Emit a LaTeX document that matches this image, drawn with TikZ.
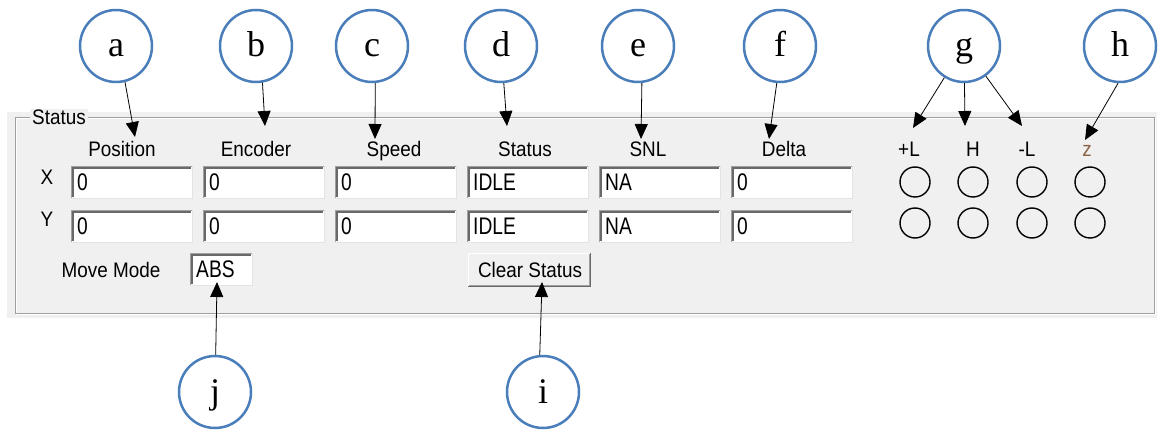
\documentclass[tikz,border=0pt]{standalone}
\usepackage{fontspec}
\setmainfont{Liberation Serif}
\newfontfamily\uifont[FakeStretch=0.9]{Liberation Sans}
\newfontfamily\fieldfont[FakeStretch=0.8]{Liberation Sans}
\usetikzlibrary{arrows.meta,calc}

\definecolor{panelgray}{HTML}{F0F0F0}
\definecolor{etchgray}{HTML}{A0A0A0}
\definecolor{darkedge}{HTML}{696969}
\definecolor{lightedge}{HTML}{E3E3E3}
\definecolor{calloutblue}{HTML}{4A7EBB}
\definecolor{zcolor}{RGB}{140,100,70}

\tikzset{
  callout/.style={circle, draw=calloutblue, line width=2.5pt, fill=white,
    minimum size=72pt, inner sep=0pt, text height=22pt, text depth=0pt,
    font=\fontsize{36}{36}\selectfont},
  arr/.style={-{Triangle[length=15pt,width=13pt]}, line width=0.8pt, black},
  uilabel/.style={font=\uifont\fontsize{21}{21}\selectfont, inner sep=0pt},
  fieldtext/.style={font=\fieldfont\fontsize{24}{24}\selectfont, inner sep=0pt},
  fieldbox/.style={fill=white, draw=none, inner sep=0pt, minimum height=32pt,
    anchor=north west},
  lamp/.style={circle, draw=black, line width=1.4pt, minimum size=30pt, inner sep=0pt},
}

% sunken edit field: name, left, top, width, text
\newcommand\editfield[5]{%
  \node[fieldbox, minimum width=#4pt] (#1) at (#2,#3) {};
  \draw[lightedge, line width=1pt] ([xshift=0.5pt]#1.south west) -| ([yshift=-0.5pt]#1.north east);
  \draw[etchgray, line width=1pt] ([xshift=0.5pt]#1.south west) |- ([yshift=-0.5pt]#1.north east);
  \draw[darkedge, line width=1.6pt] ([xshift=1.8pt,yshift=1pt]#1.south west) |- ([xshift=-1pt,yshift=-1.8pt]#1.north east);
  \node[fieldtext, anchor=west] (#1-txt) at ([xshift=6pt]#1.west) {#5};
}

\begin{document}
\begin{tikzpicture}[x=1pt, y=-1pt]
\useasboundingbox (0,0) rectangle (1158,430);
\fill[white] (0,0) rectangle (1158,430);

% dialog panel and etched group frame
\fill[panelgray] (7,112) rectangle (1157,318);
\draw[white, line width=1pt] (16,119) rectangle (1155,314);
\draw[etchgray, line width=1pt] (15,118) rectangle (1154,313);
\node[uilabel, fill=panelgray, inner xsep=2pt, inner ysep=1pt, anchor=base] (grouplbl) at (59,125) {Status};

% column headers
\node[uilabel, anchor=base] (hpos) at (122,157) {Position};
\node[uilabel, anchor=base] (henc) at (256,157) {Encoder};
\node[uilabel, anchor=base] (hspd) at (394,157) {Speed};
\node[uilabel, anchor=base] (hsta) at (525,157) {Status};
\node[uilabel, anchor=base] (hsnl) at (648,157) {SNL};
\node[uilabel, anchor=base] (hdel) at (784,157) {Delta};

\node[uilabel, anchor=base] (hpl) at (909,157) {+L};
\node[uilabel, anchor=base] (hh)  at (973,157) {H};
\node[uilabel, anchor=base] (hml) at (1027,157) {-L};
\node[uilabel, anchor=base, text=zcolor] (hz) at (1087,157) {z};

% row labels
\node[uilabel, anchor=base] (rowx) at (47,185) {X};
\node[uilabel, anchor=base] (rowy) at (47,227) {Y};

% edit fields, X row
\editfield{xpos}{71}{166}{121}{0}
\editfield{xenc}{203}{166}{121}{0}
\editfield{xspd}{335}{166}{121}{0}
\editfield{xsta}{467}{166}{121}{IDLE}
\editfield{xsnl}{599}{166}{121}{NA}
\editfield{xdel}{731}{166}{121}{0}
% edit fields, Y row
\editfield{ypos}{71}{210}{121}{0}
\editfield{yenc}{203}{210}{121}{0}
\editfield{yspd}{335}{210}{121}{0}
\editfield{ysta}{467}{210}{121}{IDLE}
\editfield{ysnl}{599}{210}{121}{NA}
\editfield{ydel}{731}{210}{121}{0}

% limit indicator lamps
\foreach \cx/\nm in {915/pl,973/h,1032/ml,1090/z}{
  \node[lamp] (lx\nm) at (\cx,182) {};
  \node[lamp] (ly\nm) at (\cx,223) {};
}

% move mode
\node[uilabel, anchor=base] (mmlbl) at (111,277) {Move Mode};
\editfield{mode}{190}{253}{62}{ABS}

% clear status button (raised)
\node[fill=panelgray, draw=none, inner sep=0pt, minimum width=123pt, minimum height=34pt,
  anchor=north west] (clr) at (468,253) {};
\draw[white, line width=1pt] ([xshift=0.5pt]clr.south west) |- ([yshift=-0.5pt]clr.north east);
\draw[darkedge, line width=1pt] ([yshift=0.5pt]clr.south west) -| ([xshift=-0.5pt]clr.north east);
\draw[etchgray, line width=1pt] ([xshift=1pt,yshift=1.5pt]clr.south west) -| ([xshift=-1.5pt,yshift=-1pt]clr.north east);
\node[uilabel, anchor=base] (clrtxt) at (530,277) {Clear Status};

% callout circles
\node[callout] (a) at (116,46) {a};
\node[callout] (b) at (256,46) {b};
\node[callout] (c) at (372,46) {c};
\node[callout] (d) at (501,46) {d};
\node[callout] (e) at (638,46) {e};
\node[callout] (f) at (780,46) {f};
\node[callout] (g) at (964,46) {g};
\node[callout] (h) at (1120,46) {h};
\node[callout] (j) at (215,392) {j};
\node[callout] (i) at (543,392) {i};

% arrow targets
\coordinate (ta) at (135,137);
\coordinate (tb) at (265,126);
\coordinate (tc) at (375,139);
\coordinate (td) at (507,126);
\coordinate (te) at (641,139);
\coordinate (tf) at (769,139);
\coordinate (tg1) at (913,128);
\coordinate (tg2) at (965,126);
\coordinate (tg3) at (1022,126);
\coordinate (th) at (1085,140);
\coordinate (tj) at (217,282);
\coordinate (ti) at (542,282);

% connectors
\draw[arr] (a.-76) -- (ta);
\draw[arr] (b.-80) -- (tb);
\draw[arr] (c.-85) -- (tc);
\draw[arr] (d) -- (td);
\draw[arr] (e.-84) -- (te);
\draw[arr] (f.-95) -- (tf);
\draw[arr] (g) -- (tg1);
\draw[arr] (g) -- (tg2);
\draw[arr] (g) -- (tg3);
\draw[arr] (h.-93) -- (th);
\draw[arr] (j) -- (tj);
\draw[arr] (i.95) -- (ti);
\end{tikzpicture}
\end{document}
